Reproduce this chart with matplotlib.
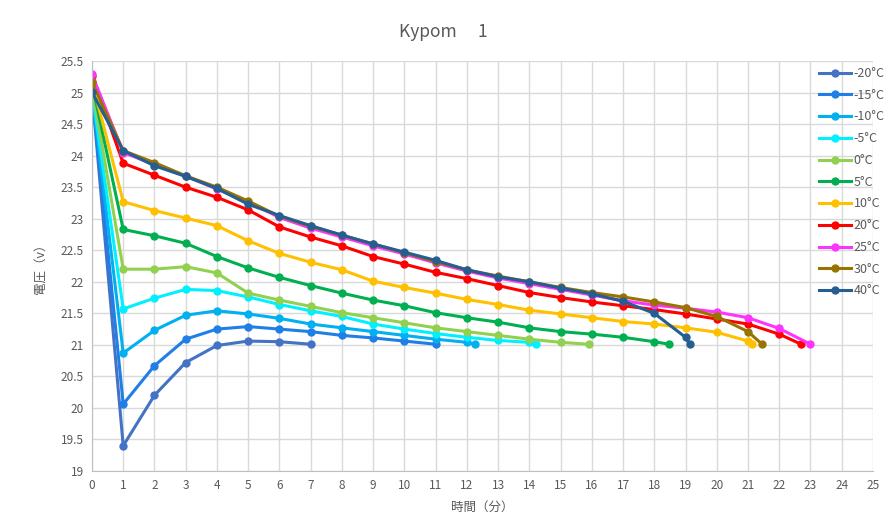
import matplotlib.pyplot as plt
from matplotlib.ticker import MultipleLocator

plt.rcParams['font.family'] = ['Noto Sans CJK JP', 'DejaVu Sans']

# discharge curves, time in minutes, voltage in V
labels = ["-20°C", "-15°C", "-10°C", "-5°C", "0°C", "5°C",
          "10°C", "20°C", "25°C", "30°C", "40°C"]

t_m20 = [0, 1, 2, 3, 4, 5, 6, 7]
v_m20 = [25.02, 19.40, 20.20, 20.72, 20.99, 21.06, 21.05, 21.01]

t_m15 = [0, 1, 2, 3, 4, 5, 6, 7, 8, 9, 10, 11]
v_m15 = [25.02, 20.06, 20.67, 21.09, 21.25, 21.29, 21.25, 21.21, 21.15, 21.11, 21.06, 21.01]

t_m10 = [0, 1, 2, 3, 4, 5, 6, 7, 8, 9, 10, 11, 12, 12.25]
v_m10 = [25.02, 20.87, 21.23, 21.47, 21.54, 21.49, 21.42, 21.33, 21.27, 21.21, 21.15, 21.09, 21.04, 21.01]

t_m5 = [0, 1, 2, 3, 4, 5, 6, 7, 8, 9, 10, 11, 12, 13, 14, 14.2]
v_m5 = [25.03, 21.57, 21.74, 21.88, 21.86, 21.76, 21.64, 21.54, 21.45, 21.33, 21.25, 21.18, 21.12, 21.07, 21.04, 21.02]

t_0 = [0, 1, 2, 3, 4, 5, 6, 7, 8, 9, 10, 11, 12, 13, 14, 15, 15.9]
v_0 = [25.10, 22.20, 22.20, 22.24, 22.14, 21.82, 21.71, 21.61, 21.51, 21.43, 21.35, 21.27, 21.21, 21.15, 21.09, 21.04, 21.01]

t_5 = [0, 1, 2, 3, 4, 5, 6, 7, 8, 9, 10, 11, 12, 13, 14, 15, 16, 17, 18, 18.47]
v_5 = [25.15, 22.83, 22.73, 22.61, 22.40, 22.22, 22.07, 21.94, 21.82, 21.71, 21.62, 21.51, 21.43, 21.36, 21.27, 21.21, 21.17, 21.12, 21.05, 21.01]

t_10 = [0, 1, 2, 3, 4, 5, 6, 7, 8, 9, 10, 11, 12, 13, 14, 15, 16, 17, 18, 19, 20, 21, 21.13]
v_10 = [25.18, 23.27, 23.13, 23.01, 22.89, 22.65, 22.45, 22.31, 22.19, 22.01, 21.91, 21.82, 21.72, 21.64, 21.55, 21.49, 21.43, 21.37, 21.33, 21.27, 21.20, 21.06, 21.01]

t_20 = [0, 1, 2, 3, 4, 5, 6, 7, 8, 9, 10, 11, 12, 13, 14, 15, 16, 17, 18, 19, 20, 21, 22, 22.7]
v_20 = [25.27, 23.88, 23.69, 23.50, 23.34, 23.14, 22.87, 22.71, 22.57, 22.40, 22.28, 22.15, 22.05, 21.94, 21.83, 21.75, 21.68, 21.62, 21.56, 21.49, 21.41, 21.33, 21.17, 21.01]

t_25 = [0, 1, 2, 3, 4, 5, 6, 7, 8, 9, 10, 11, 12, 13, 14, 15, 16, 17, 18, 19, 20, 21, 22, 23]
v_25 = [25.29, 24.05, 23.86, 23.68, 23.47, 23.27, 23.02, 22.85, 22.71, 22.57, 22.44, 22.30, 22.17, 22.06, 21.97, 21.88, 21.79, 21.70, 21.63, 21.58, 21.52, 21.43, 21.26, 21.01]

t_30 = [0, 1, 2, 3, 4, 5, 6, 7, 8, 9, 10, 11, 12, 13, 14, 15, 16, 17, 18, 19, 20, 21, 21.45]
v_30 = [25.17, 24.08, 23.89, 23.68, 23.50, 23.28, 23.04, 22.88, 22.74, 22.60, 22.46, 22.32, 22.19, 22.09, 22.00, 21.91, 21.83, 21.76, 21.68, 21.59, 21.45, 21.21, 21.01]

t_40 = [0, 1, 2, 3, 4, 5, 6, 7, 8, 9, 10, 11, 12, 13, 14, 15, 16, 17, 18, 19, 19.14]
v_40 = [25.01, 24.08, 23.84, 23.67, 23.48, 23.23, 23.05, 22.89, 22.74, 22.60, 22.47, 22.34, 22.19, 22.08, 22.00, 21.90, 21.81, 21.69, 21.50, 21.12, 21.01]

times = [t_m20, t_m15, t_m10, t_m5, t_0, t_5, t_10, t_20, t_25, t_30, t_40]
volts = [v_m20, v_m15, v_m10, v_m5, v_0, v_5, v_10, v_20, v_25, v_30, v_40]
colors = ["#4472C4", "#1F7FE6", "#00B0F0", "#00F0FF", "#92D050", "#00B050",
          "#FFC000", "#FF0000", "#FF33FF", "#997300", "#255E91"]

fig = plt.figure(figsize=(8.86, 5.31), dpi=100)
ax = fig.add_axes([0.1038, 0.113, 0.8815, 0.772])

for t, v, c, lab in zip(times, volts, colors, labels):
    ax.plot(t, v, color=c, lw=2.2, marker="o", markersize=5, label=lab)

ax.set_xlim(0, 25)
ax.set_ylim(19, 25.5)
ax.xaxis.set_major_locator(MultipleLocator(1))
ax.yaxis.set_major_locator(MultipleLocator(0.5))
ax.yaxis.set_major_formatter(lambda val, pos: f"{val:g}")
ax.grid(True, color="#D9D9D9", lw=1)
ax.set_axisbelow(True)
for s in ["top", "right"]:
    ax.spines[s].set_visible(False)
for s in ["left", "bottom"]:
    ax.spines[s].set_color("#BFBFBF")
ax.tick_params(length=0, colors="#595959", labelsize=8.5, pad=6)

fig.text(0.5, 0.94, "Kypom\u3000 1", color="#595959", fontsize=12.5,
         ha="center", va="center")
ax.set_xlabel("時間（分）", color="#595959", fontsize=9, labelpad=6)
ax.set_ylabel("電圧（v）", color="#595959", fontsize=9, labelpad=9)

leg = ax.legend(loc="upper left", bbox_to_anchor=(0.924, 0.998), frameon=False,
                fontsize=9, labelspacing=0.7, handlelength=2.6,
                handletextpad=0.2, borderaxespad=0, labelcolor="#595959")

fig.savefig("out.png", dpi=100)
